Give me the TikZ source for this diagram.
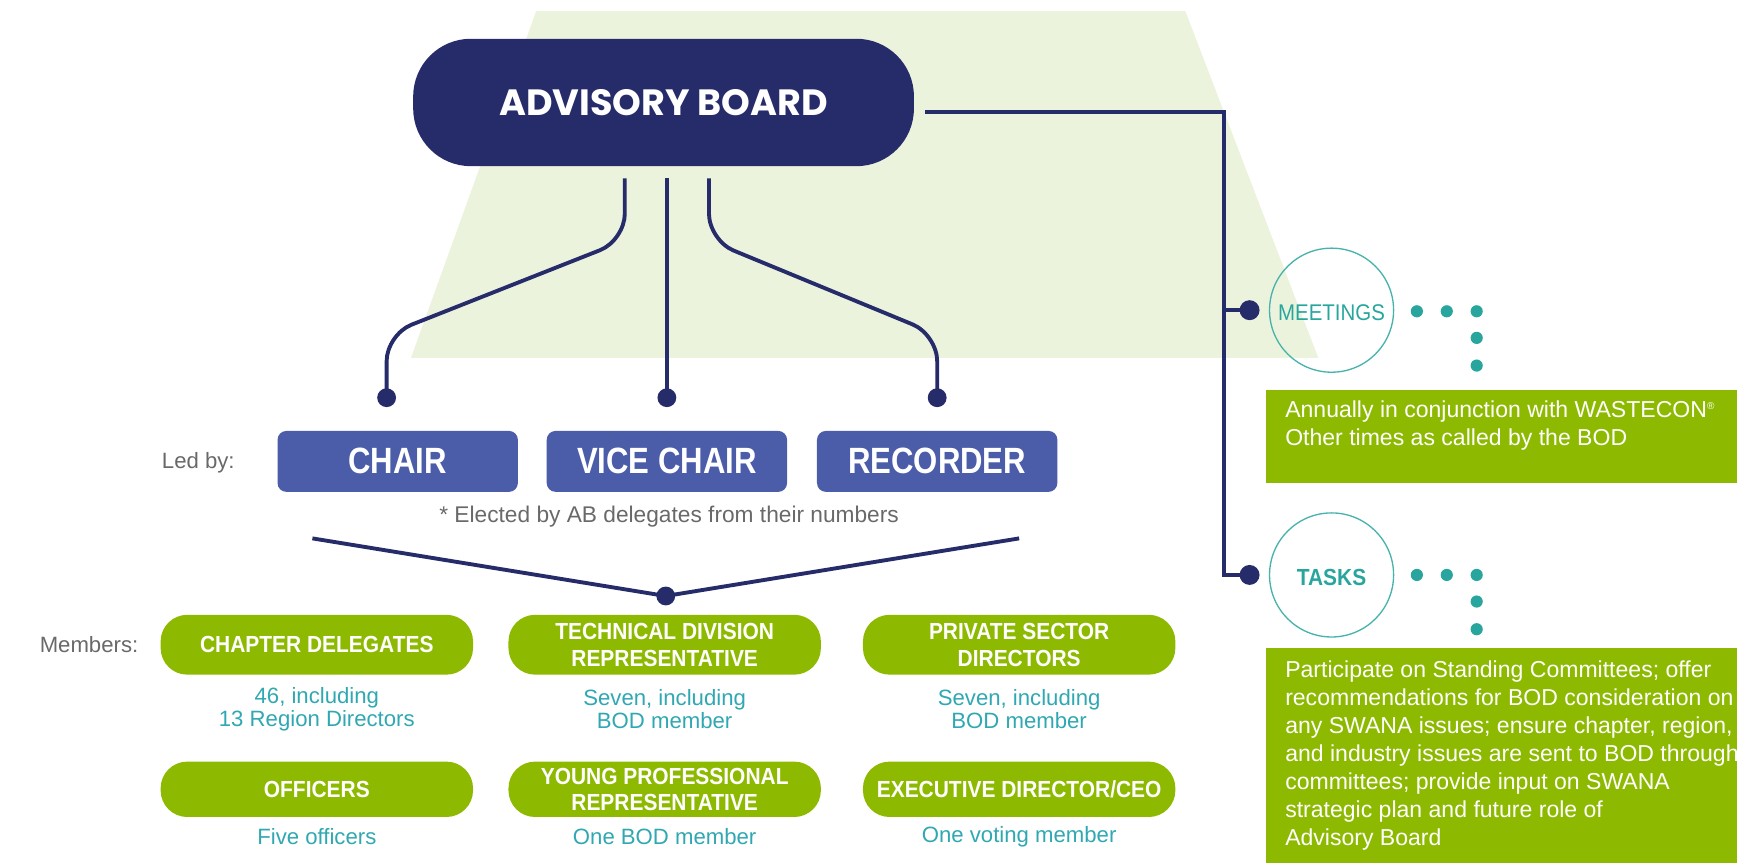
\documentclass[tikz,border=0pt]{standalone}
\usepackage{fontspec}
\setmainfont{Liberation Sans}
\newfontfamily\popp{Poppins}
\newfontfamily\condA[FakeStretch=0.85]{Liberation Sans}
\newfontfamily\condB[FakeStretch=0.9]{Liberation Sans}
\usetikzlibrary{calc}
\definecolor{navy}{RGB}{38,43,106}
\definecolor{bluebox}{RGB}{75,92,168}
\definecolor{lgreen}{RGB}{141,186,0}
\definecolor{pale}{RGB}{236,243,221}
\definecolor{myteal}{RGB}{40,166,158}
\definecolor{subteal}{RGB}{48,168,178}
\definecolor{graytxt}{RGB}{105,105,105}
\tikzset{
  abox/.style={fill=navy, text=white, rounded corners=52pt, minimum width=452pt, minimum height=115pt, inner sep=0pt, font=\popp\bfseries\fontsize{33}{36}\selectfont},
  bbox/.style={fill=bluebox, text=white, rounded corners=8pt, minimum width=217pt, minimum height=55pt, inner sep=0pt, font=\condA\bfseries\fontsize{33}{34}\selectfont},
  gpill/.style={fill=lgreen, text=white, rounded corners=24pt, minimum width=282pt, inner sep=0pt, align=center, font=\condB\bfseries\fontsize{21}{24}\selectfont},
  subtxt/.style={text=subteal, align=center, inner sep=0pt, font=\fontsize{20}{21}\selectfont},
  lbl/.style={text=graytxt, inner sep=0pt, font=\fontsize{20}{22}\selectfont},
  ndot/.style={circle, fill=navy, minimum size=17pt, inner sep=0pt},
  tdot/.style={circle, fill=myteal, minimum size=11pt, inner sep=0pt},
  ring/.style={circle, draw=myteal!85, line width=1.2pt, minimum size=112pt, inner sep=0pt},
  conn/.style={draw=navy, line width=3.5pt},
  gbox/.style={fill=lgreen, inner sep=0pt},
  boxtxt/.style={text=white, inner sep=0pt, anchor=base west, font=\fontsize{20.8}{24}\selectfont}
}
\begin{document}
\begin{tikzpicture}[x=1pt,y=-1pt]
\useasboundingbox (0,0) rectangle (1568,779);
% background trapezoid
\fill[pale] (484,10) -- (1070,10) -- (1190,323) -- (371,323) -- cycle;

% advisory board
\node[abox] (ab) at (599,92.5) {ADVISORY BOARD};

% leader boxes
\node[bbox] (chair) at (359,416.5) {CHAIR};
\node[bbox] (vice) at (602,416.5) {VICE CHAIR};
\node[bbox] (rec) at (846,416.5) {RECORDER};
\node[lbl, anchor=east] (ledby) at (212,418) {Led by:};
\node[lbl, font=\fontsize{20.5}{22}\selectfont] (elected) at (604,466) {* Elected by AB delegates from their numbers};

% dots above leader boxes
\node[ndot] (d1) at (349,359) {};
\node[ndot] (d2) at (602,359) {};
\node[ndot] (d3) at (846,359) {};
\coordinate (s1) at (564,161);
\coordinate (s2) at (602,161);
\coordinate (s3) at (640,161);
\draw[conn, rounded corners=24pt] (s1) -- (564,217) -- (349,302) -- (d1.center);
\draw[conn] (s2) -- (d2.center);
\draw[conn, rounded corners=24pt] (s3) -- (640,217) -- (846,302) -- (d3.center);

% V lines to members
\coordinate (v1) at (282,486);
\coordinate (v2) at (920,486);
\node[ndot] (vd) at (601,538) {};
\draw[conn] (v1) -- (vd.center) -- (v2);

% members
\node[lbl, anchor=east] (members) at (125,582) {Members:};
\node[gpill, minimum height=54pt] (cd) at (286,582) {CHAPTER DELEGATES};
\node[gpill, minimum height=54pt] (td) at (600,582) {TECHNICAL DIVISION\\REPRESENTATIVE};
\node[gpill, minimum height=54pt] (ps) at (920,582) {PRIVATE SECTOR\\DIRECTORS};
\node[subtxt] (cds) at (286,640) {46, including\\13 Region Directors};
\node[subtxt] (tds) at (600,640) {Seven, including\\BOD member};
\node[subtxt] (pss) at (920,640) {Seven, including\\BOD member};

\node[gpill, minimum height=50pt] (of) at (286,712.5) {OFFICERS};
\node[gpill, minimum height=50pt] (yp) at (600,712.5) {YOUNG PROFESSIONAL\\REPRESENTATIVE};
\node[gpill, minimum height=50pt] (ed) at (920,712.5) {EXECUTIVE DIRECTOR/CEO};
\node[subtxt] (ofs) at (286,755) {Five officers};
\node[subtxt] (yps) at (600,755) {One BOD member};
\node[subtxt] (eds) at (920,755) {One voting member};

% right side
\node[ring] (meet) at (1202,280) {};
\node[text=myteal, font=\condB\fontsize{20.5}{21}\selectfont, inner sep=0pt] (meett) at (1202,282) {MEETINGS};
\node[ring] (task) at (1202,519) {};
\node[text=myteal, font=\condB\bfseries\fontsize{21}{22}\selectfont, inner sep=0pt] (taskt) at (1202,521) {TASKS};

\node[ndot, minimum size=18pt] (md) at (1128,280) {};
\node[ndot, minimum size=18pt] (tk) at (1128,519) {};
\coordinate (r0) at (835,101);
\coordinate (rc) at (1105,101);
\draw[conn] (r0) -- (rc) |- (tk.center);
\draw[conn] (rc |- md) -- (md.center);

\foreach \x/\y [count=\i] in {1279/281,1306/281,1333/281,1333/305,1333/330}
  \node[tdot] (m\i) at (\x,\y) {};
\foreach \x/\y [count=\i] in {1279/519,1306/519,1333/519,1333/543,1333/568}
  \node[tdot] (t\i) at (\x,\y) {};

\node[gbox, anchor=north west, minimum width=425pt, minimum height=84pt] (mbox) at (1143,352) {};
\node[boxtxt] (mb1) at (1160,377) {Annually in conjunction with WASTECON{\fontsize{9}{9}\selectfont\raisebox{7pt}{®}}};
\node[boxtxt] (mb2) at (1160,402) {Other times as called by the BOD};

\node[gbox, anchor=north west, minimum width=425pt, minimum height=194pt] (tbox) at (1143,585) {};
\node[boxtxt] (tb1) at (1160,612) {Participate on Standing Committees; offer};
\node[boxtxt] (tb2) at (1160,637.2) {recommendations for BOD consideration on};
\node[boxtxt] (tb3) at (1160,662.4) {any SWANA issues; ensure chapter, region,};
\node[boxtxt] (tb4) at (1160,687.6) {and industry issues are sent to BOD through};
\node[boxtxt] (tb5) at (1160,712.8) {committees; provide input on SWANA};
\node[boxtxt] (tb6) at (1160,738) {strategic plan and future role of};
\node[boxtxt] (tb7) at (1160,763.2) {Advisory Board};
\end{tikzpicture}
\end{document}
